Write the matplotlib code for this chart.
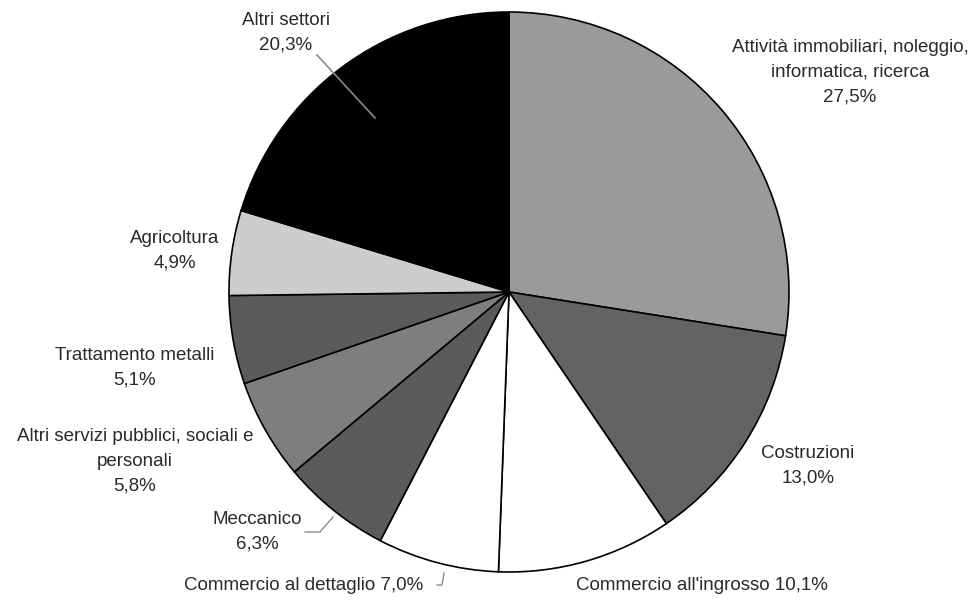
import numpy as np
import matplotlib.pyplot as plt

plt.rcParams['font.family'] = ['Liberation Sans', 'DejaVu Sans']

# sectors, clockwise from 12 o'clock
sectors = ["Attività immobiliari, noleggio,\ninformatica, ricerca",
           "Costruzioni",
           "Commercio all'ingrosso",
           "Commercio al dettaglio",
           "Meccanico",
           "Altri servizi pubblici, sociali e\npersonali",
           "Trattamento metalli",
           "Agricoltura",
           "Altri settori"]
shares = [27.5, 13.0, 10.1, 7.0, 6.3, 5.8, 5.1, 4.9, 20.3]
colors = ["#9a9a9a", "#636363", "#ffffff", "#ffffff", "#5b5b5b",
          "#7e7e7e", "#5b5b5b", "#cdcdcd", "#000000"]

# label layout (pixel coords, y from top) and whether on one line
label_pos = [(850, 72), (808, 466), (702, 585), (304, 585), (257, 532),
             (135, 461), (135, 368), (175, 251), (286, 33)]
one_line = [False, False, True, True, False, False, False, False, False]

W, H = 977, 600
fig = plt.figure(figsize=(W / 100, H / 100), dpi=100)
ax = fig.add_axes([0, 0, 1, 1])

cx, cy, r = 509, H - 292, 280
ax.pie(shares, colors=colors, startangle=90, counterclock=False,
       center=(cx, cy), radius=r, frame=True,
       wedgeprops=dict(edgecolor='black', linewidth=1.2))
ax.set_xlim(0, W)
ax.set_ylim(0, H)
ax.set_aspect('equal')
ax.axis('off')

def pct(v):
    return f"{v:.1f}%".replace('.', ',')

for name, v, (x, y), single in zip(sectors, shares, label_pos, one_line):
    txt = f"{name} {pct(v)}" if single else f"{name}\n{pct(v)}"
    ax.text(x, H - y, txt, ha='center', va='center', fontsize=13.5,
            color='#2a2a2a', linespacing=1.6)

# leader lines
lc = '#8a8a8a'
ax.plot([317, 375], [H - 55, H - 118], color=lc, lw=1.2)
ax.plot([305, 320, 333], [H - 532, H - 532, H - 517], color=lc, lw=1)
ax.plot([437, 442, 444], [H - 585, H - 585, H - 573], color=lc, lw=1)

fig.savefig('out.png', dpi=100)
